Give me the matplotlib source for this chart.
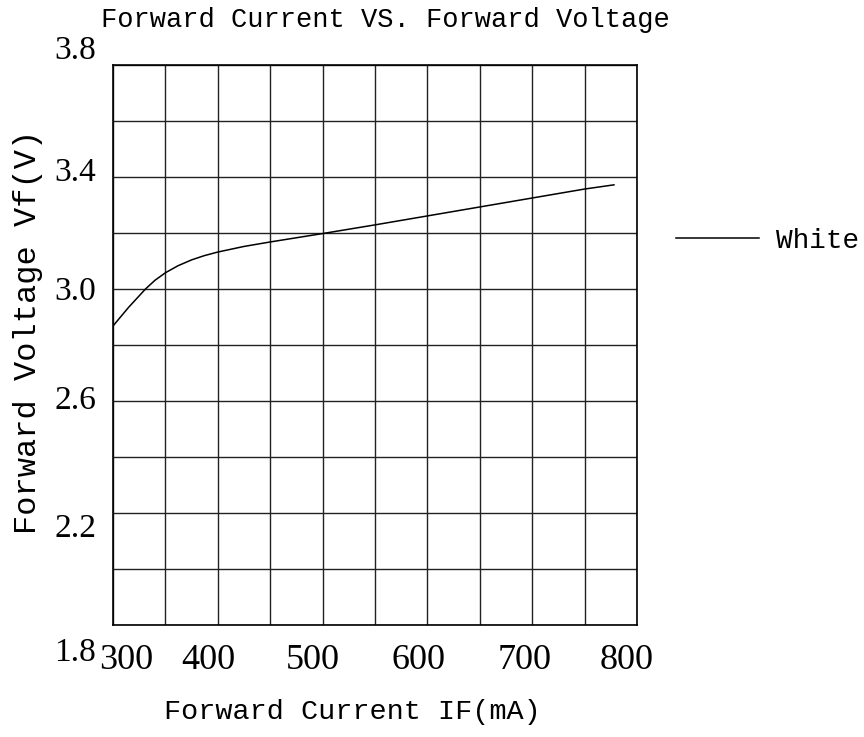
import matplotlib
matplotlib.use("Agg")
import matplotlib.pyplot as plt
import matplotlib.transforms as mtransforms

# curve
current_ma = [300, 315, 331, 340, 350, 362, 375, 387, 400, 425, 450, 500, 550, 600, 650, 700, 750, 778]
voltage_v = [2.868, 2.935, 3.000, 3.031, 3.058, 3.083, 3.104, 3.119, 3.132, 3.152, 3.168, 3.198, 3.229, 3.261, 3.293, 3.325, 3.357, 3.372]

x_ticks = [300, 400, 500, 600, 700, 800]
y_ticks = [1.8, 2.2, 2.6, 3.0, 3.4, 3.8]
x_grid = [300 + 50 * i for i in range(11)]
y_grid = [1.8 + 0.2 * i for i in range(11)]

# tick label nudges in pixels (the original labels are not centred on the grid)
x_shift = [13, -9, -10, -9, -8, -10]
y_shift = [-24, -12, 4, 1, 8, 18]

mono = "Liberation Mono"
serif = "Liberation Serif"

fig = plt.figure(figsize=(8.64, 7.37), dpi=100)
ax = fig.add_axes([113 / 864, 1 - 625 / 737, 524 / 864, 560 / 737])

for gx in x_grid:
    ax.axvline(gx, color="#222222", lw=1.0, zorder=1)
for gy in y_grid:
    ax.axhline(gy, color="#222222", lw=1.0, zorder=1)

ax.plot(current_ma, voltage_v, color="black", lw=1.1, label="White", zorder=3)

ax.set_xlim(300, 800)
ax.set_ylim(1.8, 3.8)
ax.set_xticks(x_ticks)
ax.set_xticklabels([str(v) for v in x_ticks], fontfamily=serif, fontsize=26)
ax.set_yticks(y_ticks)
ax.set_yticklabels(["%.1f" % v for v in y_ticks], fontfamily=serif, fontsize=24)
ax.tick_params(axis="both", length=0)
ax.tick_params(axis="x", pad=14)
ax.tick_params(axis="y", pad=12)

for lab, dx in zip(ax.get_xticklabels(), x_shift):
    lab.set_transform(lab.get_transform() + mtransforms.ScaledTranslation(dx / 100, 0, fig.dpi_scale_trans))
for lab, dy in zip(ax.get_yticklabels(), y_shift):
    lab.set_transform(lab.get_transform() + mtransforms.ScaledTranslation(0, dy / 100, fig.dpi_scale_trans))

for sp in ax.spines.values():
    sp.set_color("black")
    sp.set_linewidth(1.2)

fig.text(385 / 864, 1 - 20 / 737, "Forward Current VS. Forward Voltage",
         fontfamily=mono, fontsize=19.5, ha="center", va="center")
fig.text(352 / 864, 1 - 712 / 737, "Forward Current IF(mA)",
         fontfamily=mono, fontsize=20.5, ha="center", va="center")
fig.text(28 / 864, 1 - 332 / 737, "Forward Voltage Vf(V)",
         fontfamily=mono, fontsize=23, ha="center", va="center", rotation=90)

leg = ax.legend(loc="center left", bbox_to_anchor=(676 / 864, 1 - 241 / 737),
                bbox_transform=fig.transFigure, frameon=False,
                prop={"family": mono, "size": 20}, handlelength=3.0,
                handletextpad=0.6, borderpad=0, borderaxespad=0)

fig.savefig("out.png", dpi=100)
